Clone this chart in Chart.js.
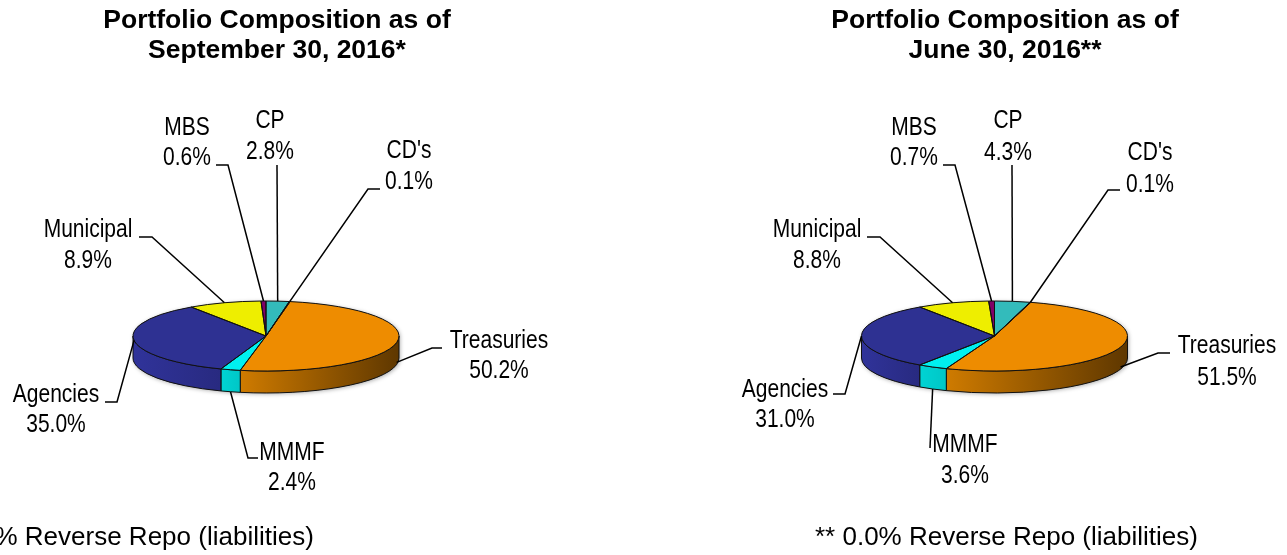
<!DOCTYPE html>
<html><head><meta charset="utf-8">
<script src="https://cdn.jsdelivr.net/npm/chart.js@4.4.1/dist/chart.umd.min.js"></script>
<style>
html,body{margin:0;padding:0;background:#fff;overflow:hidden;}
#wrap{position:relative;width:1287px;height:555px;}
canvas{position:absolute;top:0;}
</style></head><body>
<div id="wrap">
<canvas id="c1" width="640" height="555" style="left:0;width:640px;height:555px"></canvas>
<canvas id="c2" width="647" height="555" style="left:640px;width:647px;height:555px"></canvas>
</div>
<script>
// ---------- data ----------
const categories = ['CP', "CD's", 'Treasuries', 'MMMF', 'Agencies', 'Municipal', 'MBS'];
const sep2016 = [2.8, 0.1, 50.2, 2.4, 35.0, 8.9, 0.6];
const jun2016 = [4.3, 0.1, 51.5, 3.6, 31.0, 8.8, 0.7];
const titlesSep = ['Portfolio Composition as of', 'September 30, 2016*'];
const titlesJun = ['Portfolio Composition as of', 'June 30, 2016**'];
const footSep = '* 0.0% Reverse Repo (liabilities)';
const footJun = '** 0.0% Reverse Repo (liabilities)';

// ---------- styles ----------
const topColors  = ['#33BBBB', '#F4B183', '#EE8C00', '#00F0F0', '#2E3192', '#EEEE00', '#800066'];
const sideColors = [['#2AA0A0','#1F7F7F'], ['#D09060','#A06030'], ['#CF7B00','#5E3700'],
                    ['#00D4D4','#00C6C6'], ['#30339A','#282A80'], ['#CCCC00','#999900'], ['#6A0050','#500040']];

// label layout (global page coordinates): [x centre, baseline line1, baseline line2]
const labelPosSep = [[270,128,159],[409,158,189],[499,348,378],[292,460,490],[56,402,432],[88,237,268],[187,135,165]];
const labelPosJun = [[1008,128,160],[1150,160,192],[1227,353,385],[965,452,483],[785,397,427],[817,237,268],[914,135,165]];
// leader elbows / ends
const leaderSep = [[[277,165],null],[[368,189],[380,189]],[[432,348],[442,348]],[[248,458],[258,458]],
                   [[117,402],[105,402]],[[152,237],[139,237]],[[228,165],[216,165]]];
const leaderJun = [[[1012,165],null],[[1108,190],[1120,190]],[[1158,353],[1170,353]],[[930,448],null],
                   [[845,394],[833,394]],[[880,237],[867,237]],[[955,165],[943,165]]];
const anchorDrop = [0, 0, 0.9, 1, 0, 0, 0];

const FONT = '"Liberation Sans", Arial, Helvetica, sans-serif';
const R = 133, K = 35/133, DEPTH = 22, CY = 336;

const pie3d = {
  id: 'pie3d',
  beforeDatasetsDraw(chart, args, o) {
    const ctx = chart.ctx;
    const arcs = chart.getDatasetMeta(0).data;
    const cx = arcs[0].x, cy = arcs[0].y, r = arcs[0].outerRadius, ry = r * K;
    // soft shadow silhouette
    ctx.save();
    ctx.shadowColor = 'rgba(0,0,0,0.35)';
    ctx.shadowBlur = 4; ctx.shadowOffsetX = 1; ctx.shadowOffsetY = 1;
    ctx.beginPath();
    ctx.ellipse(cx, cy, r, ry, 0, Math.PI, 2*Math.PI, false);
    ctx.lineTo(cx + r, cy + DEPTH);
    ctx.ellipse(cx, cy + DEPTH, r, ry, 0, 0, Math.PI, false);
    ctx.closePath();
    ctx.fillStyle = '#888';
    ctx.fill();
    ctx.restore();
    // side walls
    arcs.forEach((a, i) => {
      const s = a.startAngle, e = a.endAngle;
      for (let m = -1; m <= 1; m++) {
        const lo = Math.max(s, 2*Math.PI*m), hi = Math.min(e, Math.PI + 2*Math.PI*m);
        if (hi - lo < 1e-6) continue;
        const xl = cx + r*Math.cos(hi), xr = cx + r*Math.cos(lo);
        const g = ctx.createLinearGradient(Math.min(xl,xr) - 0.5, 0, Math.max(xl,xr) + 0.5, 0);
        g.addColorStop(0, sideColors[i][0]); g.addColorStop(1, sideColors[i][1]);
        ctx.beginPath();
        ctx.ellipse(cx, cy, r, ry, 0, lo, hi, false);
        ctx.lineTo(cx + r*Math.cos(hi), cy + ry*Math.sin(hi) + DEPTH);
        ctx.ellipse(cx, cy + DEPTH, r, ry, 0, hi, lo, true);
        ctx.closePath();
        ctx.fillStyle = g; ctx.fill();
        ctx.lineWidth = 1; ctx.strokeStyle = '#111'; ctx.stroke();
      }
    });
    ctx.save();
    ctx.translate(cx, cy); ctx.scale(1, K); ctx.translate(-cx, -cy);
  },
  afterDatasetsDraw(chart, args, o) {
    const ctx = chart.ctx;
    ctx.restore();
    const arcs = chart.getDatasetMeta(0).data;
    const cx = arcs[0].x, cy = arcs[0].y, r = arcs[0].outerRadius, ry = r * K;
    ctx.save();
    ctx.lineWidth = 1; ctx.strokeStyle = '#111'; ctx.lineJoin = 'round';
    arcs.forEach(a => {
      ctx.beginPath(); ctx.moveTo(cx, cy);
      ctx.ellipse(cx, cy, r, ry, 0, a.startAngle, a.endAngle, false);
      ctx.closePath(); ctx.stroke();
    });
    ctx.restore();
  },
  afterDraw(chart, args, o) {
    const ctx = chart.ctx;
    const off = o.offsetX;
    const arcs = chart.getDatasetMeta(0).data;
    const vals = chart.data.datasets[0].data;
    const cx = arcs[0].x, cy = arcs[0].y, r = arcs[0].outerRadius, ry = r * K;
    ctx.save();
    // leader lines
    ctx.strokeStyle = '#000'; ctx.lineWidth = 1.5; ctx.lineJoin = 'miter';
    arcs.forEach((a, i) => {
      const mid = (a.startAngle + a.endAngle) / 2;
      const ax = cx + r*Math.cos(mid), ay = cy + ry*Math.sin(mid) + anchorDrop[i]*DEPTH;
      const [elbow, end] = o.leaders[i];
      ctx.beginPath();
      ctx.moveTo(ax, ay);
      ctx.lineTo(elbow[0] - off, elbow[1]);
      if (end) ctx.lineTo(end[0] - off, end[1]);
      ctx.stroke();
    });
    // data labels (condensed)
    ctx.fillStyle = '#000'; ctx.textAlign = 'center'; ctx.textBaseline = 'alphabetic';
    ctx.font = '25px ' + FONT;
    chart.data.labels.forEach((lab, i) => {
      const [x, y1, y2] = o.labelPos[i];
      [[lab, y1], [vals[i].toFixed(1) + '%', y2]].forEach(([t, y]) => {
        ctx.save(); ctx.translate(x - off, y); ctx.scale(0.84, 1);
        ctx.fillText(t, 0, 0); ctx.restore();
      });
    });
    // titles
    ctx.font = 'bold 26.5px ' + FONT;
    ctx.fillText(o.titles[0], o.titleX - off, 28);
    ctx.fillText(o.titles[1], o.titleX - off, 58);
    // footnote
    ctx.font = '26px ' + FONT; ctx.textAlign = 'left';
    ctx.fillText(o.foot, o.footX - off, 545);
    ctx.restore();
  }
};

function makeChart(id, values, W, cxGlobal, off, labelPos, leaders, titles, titleX, foot, footX) {
  const cxl = cxGlobal - off;
  const padL = Math.max(0, 2*cxl - W), padR = Math.max(0, W - 2*cxl);
  const padT = Math.max(0, 2*CY - 555), padB = Math.max(0, 555 - 2*CY);
  return new Chart(document.getElementById(id), {
    type: 'pie',
    data: { labels: categories, datasets: [{ data: values, backgroundColor: topColors,
      borderWidth: 0, radius: R, clip: false, hoverOffset: 0 }] },
    options: {
      responsive: false, animation: false, events: [],
      rotation: 0,
      layout: { padding: { left: padL, right: padR, top: padT, bottom: padB } },
      plugins: {
        legend: { display: false }, tooltip: { enabled: false }, title: { display: false },
        pie3d: { offsetX: off, labelPos, leaders, titles, titleX, foot, footX }
      }
    },
    plugins: [pie3d]
  });
}

makeChart('c1', sep2016, 640, 266, 0, labelPosSep, leaderSep, titlesSep, 277, footSep, -59);
makeChart('c2', jun2016, 647, 994.5, 640, labelPosJun, leaderJun, titlesJun, 1005, footJun, 815);
</script>
</body></html>
